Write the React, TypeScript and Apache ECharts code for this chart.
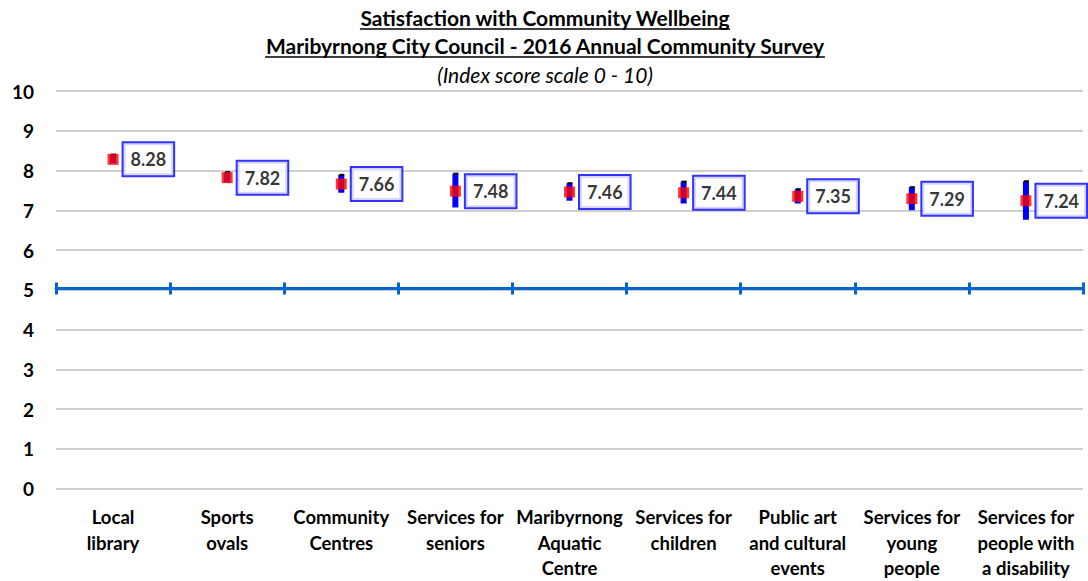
import React, { useEffect, useRef } from "react";
import * as echarts from "echarts";

const categories = [
  "Local\nlibrary",
  "Sports\novals",
  "Community\nCentres",
  "Services for\nseniors",
  "Maribyrnong\nAquatic\nCentre",
  "Services for\nchildren",
  "Public art\nand cultural\nevents",
  "Services for\nyoung\npeople",
  "Services for\npeople with\na disability",
];
const scores = [8.28, 7.82, 7.66, 7.48, 7.46, 7.44, 7.35, 7.29, 7.24];
const lowerBounds = [8.18, 7.7, 7.44, 7.07, 7.24, 7.17, 7.17, 7.0, 6.76];
const upperBounds = [8.4, 7.96, 7.89, 7.92, 7.68, 7.72, 7.53, 7.58, 7.73];
const titleLines = [
  "Satisfaction with Community Wellbeing",
  "Maribyrnong City Council - 2016 Annual Community Survey",
];
const subtitle = "(Index score scale 0 - 10)";

const FONT = "Lato";

function measure(text: string, font: string) {
  const c = document.createElement("canvas").getContext("2d")!;
  c.font = font;
  return c.measureText(text).width;
}

export default function App() {
  const ref = useRef<HTMLDivElement>(null);
  useEffect(() => {
    const chart = echarts.init(ref.current!, undefined, { renderer: "svg" });
    const cx = 545;
    const titleFontSize = 21;
    const tFont = `bold ${titleFontSize}px ${FONT}`;
    const graphics: any[] = [];
    const titleYs = [17, 45];
    titleLines.forEach((t, i) => {
      const w = measure(t, tFont);
      graphics.push({
        type: "text",
        x: cx,
        y: titleYs[i],
        style: {
          text: t,
          font: tFont,
          fill: "#000",
          textAlign: "center",
          textVerticalAlign: "middle",
        },
      });
      graphics.push({
        type: "line",
        shape: { x1: cx - w / 2, y1: titleYs[i] + 12, x2: cx + w / 2, y2: titleYs[i] + 12 },
        style: { stroke: "#000", lineWidth: 1.5 },
      });
    });
    graphics.push({
      type: "text",
      x: cx,
      y: 74,
      style: {
        text: subtitle,
        font: `italic 21px ${FONT}`,
        fill: "#000",
        textAlign: "center",
        textVerticalAlign: "middle",
      },
    });

    const lineColor = "#0066CC";
    const hiddenAxisBase = {
      type: "category",
      data: categories,
      position: "bottom",
      offset: -200,
      axisLabel: { show: false },
      splitLine: { show: false },
    };

    chart.setOption({
      animation: false,
      grid: { left: 56, right: 5, top: 91, bottom: 91, containLabel: false },
      graphic: graphics,
      xAxis: [
        {
          type: "category",
          data: categories,
          axisLine: { show: false },
          axisTick: { show: false },
          axisLabel: {
            interval: 0,
            margin: 16,
            fontFamily: FONT,
            fontWeight: "bold",
            fontSize: 18.5,
            lineHeight: 25.5,
            color: "#000",
            align: "center",
          },
        },
        {
          ...hiddenAxisBase,
          axisLine: { show: true, lineStyle: { color: lineColor, width: 3 } },
          axisTick: { show: true, length: 6, lineStyle: { color: lineColor, width: 3 } },
        },
        {
          ...hiddenAxisBase,
          axisLine: { show: false },
          axisTick: { show: true, inside: true, length: 6, lineStyle: { color: lineColor, width: 3 } },
        },
      ],
      yAxis: {
        type: "value",
        min: 0,
        max: 10,
        interval: 1,
        axisLine: { show: false },
        axisTick: { show: false },
        axisLabel: {
          margin: 22,
          fontFamily: FONT,
          fontWeight: "bold",
          fontSize: 19,
          color: "#000",
        },
        splitLine: { lineStyle: { color: "#BFBFBF", width: 1.5 } },
      },
      series: [
        {
          type: "custom",
          z: 2,
          data: categories.map((_, i) => [i, lowerBounds[i], upperBounds[i]]),
          renderItem: (params: any, api: any) => {
            const i = api.value(0);
            const top = api.coord([i, api.value(2)]);
            const bot = api.coord([i, api.value(1)]);
            return {
              type: "group",
              children: [
                {
                  type: "rect",
                  shape: { x: top[0] - 3, y: top[1], width: 6, height: bot[1] - top[1] },
                  style: { fill: "#0000FF" },
                },
                {
                  type: "rect",
                  shape: { x: top[0] - 2, y: top[1] - 1, width: 5, height: 2 },
                  style: { fill: "#000" },
                },
              ],
            };
          },
        },
        {
          type: "scatter",
          z: 3,
          data: scores,
          symbol: "rect",
          symbolSize: 11,
          itemStyle: { color: "#FF0000" },
          label: {
            show: true,
            position: "right",
            distance: 5,
            formatter: (p: any) => p.value.toFixed(2),
            fontFamily: FONT,
            fontWeight: "bold",
            fontSize: 18,
            color: "#000",
            backgroundColor: "#fff",
            borderColor: "#0000FF",
            borderWidth: 2,
            padding: [7, 7, 7, 7],
          },
        },
      ],
    });
    return () => chart.dispose();
  }, []);
  return (
    <div
      ref={ref}
      style={{ position: "fixed", left: 0, top: 0, width: 1088, height: 581, background: "#fff" }}
    />
  );
}
